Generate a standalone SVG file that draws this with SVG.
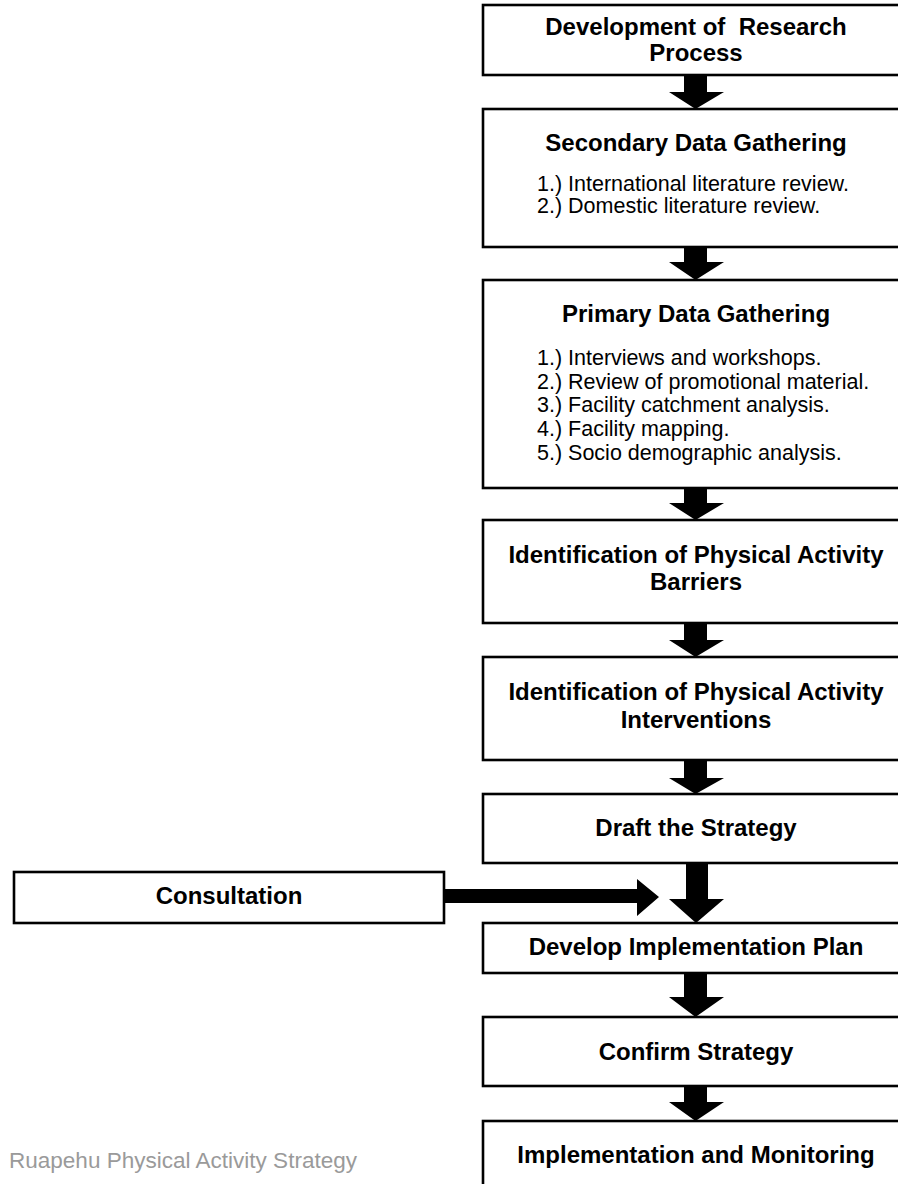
<svg xmlns="http://www.w3.org/2000/svg" width="898" height="1184" viewBox="0 0 898 1184">
<style>
.box{fill:#fff;stroke:#000;stroke-width:2.6}
.t{font-family:"Liberation Sans",Arial,sans-serif;font-weight:bold;font-size:24px;fill:#000;text-anchor:middle}
.l{font-family:"Liberation Sans",Arial,sans-serif;font-size:21.5px;fill:#000}
.arr{fill:#000}
.foot{font-family:"Liberation Sans",Arial,sans-serif;font-size:22.5px;fill:#9a9a9a}
</style>
<rect width="898" height="1184" fill="#fff"/>
<g id="connectors">
<polygon class="arr" points="684,75 707,75 707,92 724,92 695.5,109 669,92 684,92"/>
<polygon class="arr" points="684,247 707,247 707,262 724,262 695.5,280 669,262 684,262"/>
<polygon class="arr" points="684,488 707,488 707,503 724,503 695.5,520 669,503 684,503"/>
<polygon class="arr" points="684,623 707,623 707,640 724,640 695.5,657 669,640 684,640"/>
<polygon class="arr" points="684,760 707,760 707,778 724,778 695.5,794 669,778 684,778"/>
<polygon class="arr" points="686,863 708,863 708,899 724,899 696,923 669,899 686,899"/>
<polygon class="arr" points="684,973 707,973 707,997 724,997 695.5,1017 669,997 684,997"/>
<polygon class="arr" points="684,1086 707,1086 707,1102 724,1102 695.5,1121 669,1102 684,1102"/>
<polygon class="arr" points="444,889 637,889 637,879 659,897 637,916 637,903 444,903"/>
</g>
<g id="n1">
<rect class="box" x="483" y="5" width="430" height="70"/>
<text class="t" x="696" y="35" xml:space="preserve">Development of  Research</text>
<text class="t" x="696" y="61">Process</text>
</g>
<g id="n2">
<rect class="box" x="483" y="109" width="430" height="138"/>
<text class="t" x="696" y="151">Secondary Data Gathering</text>
<text class="l" x="537" y="191">1.) International literature review.</text>
<text class="l" x="537" y="213">2.) Domestic literature review.</text>
</g>
<g id="n3">
<rect class="box" x="483" y="280" width="430" height="208"/>
<text class="t" x="696" y="322">Primary Data Gathering</text>
<text class="l" x="537" y="365">1.) Interviews and workshops.</text>
<text class="l" x="537" y="389">2.) Review of promotional material.</text>
<text class="l" x="537" y="412">3.) Facility catchment analysis.</text>
<text class="l" x="537" y="436">4.) Facility mapping.</text>
<text class="l" x="537" y="460">5.) Socio demographic analysis.</text>
</g>
<g id="n4">
<rect class="box" x="483" y="520" width="430" height="103"/>
<text class="t" x="696" y="563">Identification of Physical Activity</text>
<text class="t" x="696" y="590">Barriers</text>
</g>
<g id="n5">
<rect class="box" x="483" y="657" width="430" height="103"/>
<text class="t" x="696" y="700">Identification of Physical Activity</text>
<text class="t" x="696" y="728">Interventions</text>
</g>
<g id="n6">
<rect class="box" x="483" y="794" width="430" height="69"/>
<text class="t" x="696" y="836">Draft the Strategy</text>
</g>
<g id="n7">
<rect class="box" x="483" y="923" width="430" height="50"/>
<text class="t" x="696" y="955">Develop Implementation Plan</text>
</g>
<g id="n8">
<rect class="box" x="483" y="1017" width="430" height="69"/>
<text class="t" x="696" y="1060">Confirm Strategy</text>
</g>
<g id="n9">
<rect class="box" x="483" y="1121" width="430" height="80"/>
<text class="t" x="696" y="1163">Implementation and Monitoring</text>
</g>
<g id="consultation">
<rect class="box" x="14" y="872" width="430" height="51"/>
<text class="t" x="229" y="904">Consultation</text>
</g>
<text class="foot" x="9" y="1168" textLength="348" lengthAdjust="spacingAndGlyphs">Ruapehu Physical Activity Strategy</text>
</svg>
